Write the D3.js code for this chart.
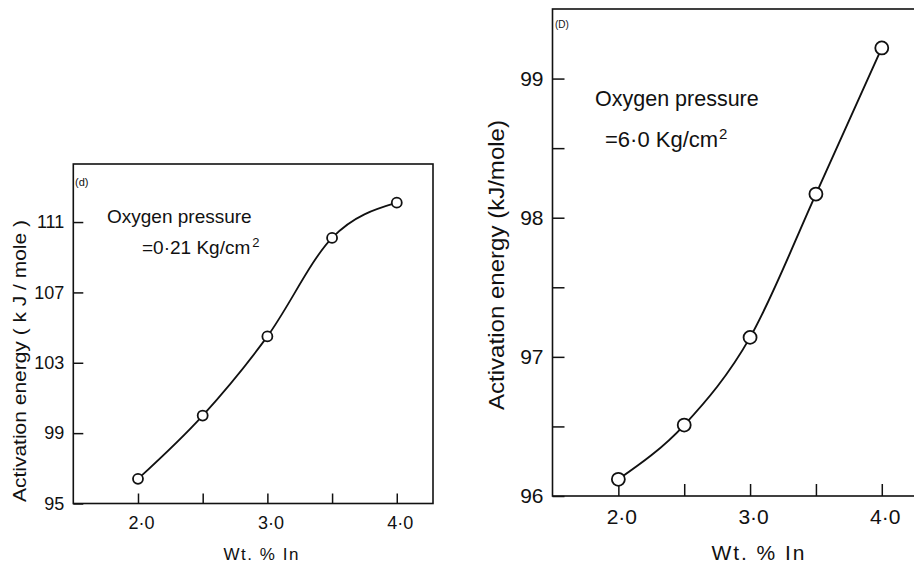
<!DOCTYPE html>
<html>
<head>
<meta charset="utf-8">
<script src="https://cdn.jsdelivr.net/npm/d3@7"></script>
<style>
  html, body { margin: 0; padding: 0; background: #fff; }
  svg { display: block; }
  text { font-family: "Liberation Sans", Arial, sans-serif; fill: #111; }
</style>
</head>
<body>
<svg id="chart" width="914" height="566"></svg>
<script>
// ---- data ----
const wtIn = [2.0, 2.5, 3.0, 3.5, 4.0];
const energyLow = [96.4, 100.0, 104.5, 110.1, 112.1];   // 0.21 Kg/cm2, panel (d)
const energyHigh = [96.12, 96.51, 97.14, 98.17, 99.22]; // 6.0 Kg/cm2
const xTicks = [2.0, 2.5, 3.0, 3.5, 4.0];
const xTickLabels = ["2·0", "", "3·0", "", "4·0"];
const yTicksLow = [95, 99, 103, 107, 111];
const yTickLabelsLow = ["95", "99", "103", "107", "111"];
const yTicksHigh = [96, 96.5, 97, 97.5, 98, 98.5, 99];
const yTickLabelsHigh = ["96", "", "97", "", "98", "", "99"];

const svg = d3.select("#chart");
const ink = "#111";

function panel(opts) {
  const { x, y, values, yTicks, yLabels, fs, tick, r, xPad, yPad, lw } = opts;
  const g = svg.append("g");
  // frame
  g.append("rect")
    .attr("x", x.range()[0]).attr("y", y.range()[1])
    .attr("width", x.range()[1] - x.range()[0])
    .attr("height", y.range()[0] - y.range()[1])
    .attr("fill", "none").attr("stroke", ink).attr("stroke-width", 1.6);

  const xa = g.append("g")
    .attr("transform", `translate(0,${y.range()[0]})`)
    .call(d3.axisBottom(x).tickValues(xTicks)
      .tickFormat((d, i) => xTickLabels[i])
      .tickSizeInner(-tick).tickSizeOuter(0).tickPadding(xPad));
  xa.select(".domain").remove();
  xa.selectAll("line").attr("stroke", ink).attr("stroke-width", 1.5);
  xa.selectAll("text").attr("font-size", fs).attr("dx", 3)
    .attr("font-family", "Liberation Sans, Arial, sans-serif").attr("fill", ink);

  const ya = g.append("g")
    .attr("transform", `translate(${x.range()[0]},0)`)
    .call(d3.axisLeft(y).tickValues(yTicks)
      .tickFormat((d, i) => yLabels[i])
      .tickSizeInner(-tick).tickSizeOuter(0).tickPadding(yPad));
  ya.select(".domain").remove();
  ya.selectAll("line").attr("stroke", ink).attr("stroke-width", 1.5);
  ya.selectAll("text").attr("font-size", fs)
    .attr("font-family", "Liberation Sans, Arial, sans-serif").attr("fill", ink);

  const pts = wtIn.map((d, i) => [d, values[i]]);
  const line = d3.line().x(d => x(d[0])).y(d => y(d[1])).curve(d3.curveMonotoneX);
  g.append("path").attr("d", line(pts))
    .attr("fill", "none").attr("stroke", ink).attr("stroke-width", lw);
  g.selectAll("circle.pt").data(pts).join("circle")
    .attr("class", "pt")
    .attr("cx", d => x(d[0])).attr("cy", d => y(d[1])).attr("r", r)
    .attr("fill", "#fff").attr("stroke", ink).attr("stroke-width", 1.8);
  return g;
}

// ---- left panel (d) ----
const xL = d3.scaleLinear().domain([1.5, 4.28]).range([73.3, 433]);
const yL = d3.scaleLinear().domain([95, 114.3]).range([503.5, 164]);
const gL = panel({ x: xL, y: yL, values: energyLow, yTicks: yTicksLow, yLabels: yTickLabelsLow,
  fs: 18, tick: 10, r: 5, xPad: 13, yPad: 9, lw: 1.8 });

gL.append("text").attr("x", 75).attr("y", 186).attr("font-size", 11).text("(d)");
gL.append("text").attr("x", 107).attr("y", 223).attr("font-size", 19).text("Oxygen pressure");
const tL = gL.append("text").attr("x", 142).attr("y", 254).attr("font-size", 19);
tL.append("tspan").text("=0·21 Kg/cm");
tL.append("tspan").attr("font-size", 13).attr("dx", 2).attr("dy", -7).text("2");
gL.append("text").attr("x", 261).attr("y", 560).attr("font-size", 17)
  .attr("text-anchor", "middle").attr("textLength", 75).attr("lengthAdjust", "spacing").text("Wt. % In");
gL.append("text").attr("transform", "translate(25.5,361) rotate(-90)")
  .attr("font-size", 18).attr("text-anchor", "middle")
  .attr("textLength", 282).attr("lengthAdjust", "spacingAndGlyphs")
  .text("Activation energy ( k J / mole )");

// ---- right panel ----
const xR = d3.scaleLinear().domain([1.5, 4.3]).range([552.5, 921.3]);
const yR = d3.scaleLinear().domain([96, 99.5]).range([496, 9]);
const gR = panel({ x: xR, y: yR, values: energyHigh, yTicks: yTicksHigh, yLabels: yTickLabelsHigh,
  fs: 21, tick: 12, r: 6.5, xPad: 13.5, yPad: 9, lw: 1.9 });

gR.append("text").attr("x", 555).attr("y", 28).attr("font-size", 10).text("(D)");
gR.append("text").attr("x", 595).attr("y", 106).attr("font-size", 21.5).text("Oxygen pressure");
const tR = gR.append("text").attr("x", 605).attr("y", 147).attr("font-size", 22);
tR.append("tspan").text("=6·0 Kg/cm");
tR.append("tspan").attr("font-size", 15).attr("dx", 1).attr("dy", -8).text("2");
gR.append("text").attr("x", 758).attr("y", 559.5).attr("font-size", 21)
  .attr("text-anchor", "middle").attr("textLength", 93).attr("lengthAdjust", "spacing").text("Wt. % In");
gR.append("text").attr("transform", "translate(504,265) rotate(-90)")
  .attr("font-size", 22).attr("text-anchor", "middle")
  .attr("textLength", 290).attr("lengthAdjust", "spacingAndGlyphs")
  .text("Activation energy (kJ/mole)");
</script>
</body>
</html>
